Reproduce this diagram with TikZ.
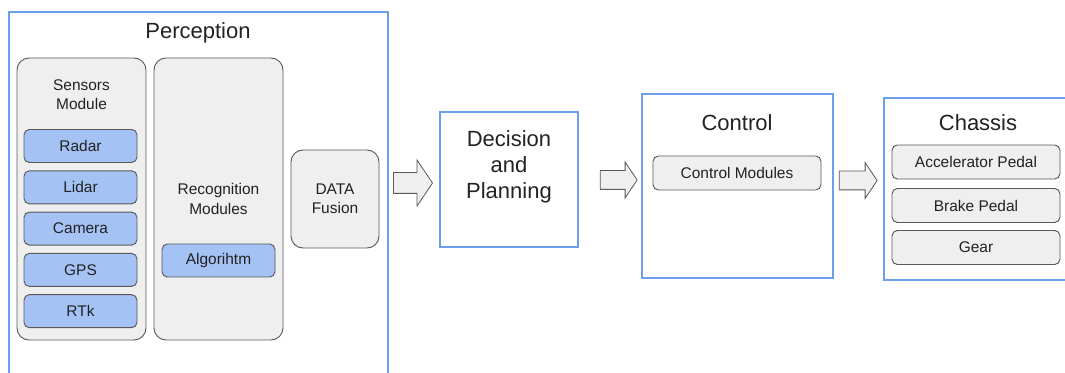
\documentclass[tikz,border=0pt]{standalone}
\usepackage{fontspec}
\setmainfont{Liberation Sans}
\usetikzlibrary{shapes.arrows}
\definecolor{framecol}{HTML}{6D9EEB}
\definecolor{modfill}{HTML}{EFEFEF}
\definecolor{itemfill}{HTML}{A4C2F4}
\definecolor{linecol}{HTML}{595959}
\definecolor{txtcol}{HTML}{222222}
\newcommand{\smallfnt}{\fontsize{11.6}{14.3}\selectfont}
\newcommand{\titlefnt}{\fontsize{16.5}{19.6}\selectfont}
\begin{document}
\begin{tikzpicture}[x=0.75pt, y=-0.75pt, text=txtcol, font=\smallfnt,
  sz/.style 2 args={minimum width=#1*0.75pt, minimum height=#2*0.75pt, inner sep=0pt},
  frame/.style={draw=framecol, line width=1.2pt, fill=white},
  module/.style={draw=linecol, line width=0.7pt, fill=modfill, rounded corners=9pt},
  item/.style={draw=linecol, line width=0.7pt, fill=itemfill, rounded corners=4pt, sz={113}{33}},
  grayitem/.style={draw=linecol, line width=0.7pt, fill=modfill, rounded corners=4pt, sz={168}{34}},
  blockarrow/.style={single arrow, draw=linecol, line width=0.6pt, fill=modfill, inner xsep=0pt, single arrow tip angle=112, single arrow head indent=0pt},
  title/.style={font=\titlefnt, align=center}]
\useasboundingbox (0,0) rectangle (1065,373);
\fill[white] (0,0) rectangle (1065,373);
% outer frames
\node[frame, sz={379}{378}] (perc) at (198.5,201) {};
\node[frame, sz={138}{135}] (dp) at (509,179.5) {};
\node[frame, sz={191}{184}] (ctrl) at (737.5,186) {};
\node[frame, sz={200}{182}] (chas) at (984,189) {};
\node[title] (perctitle) at (198,33) {Perception};
\node[title, anchor=north] (dptext) at (509,126) {Decision\\and\\Planning};
\node[title] (ctrltitle) at (737,123) {Control};
\node[title] (chastitle) at (978,123) {Chassis};
% perception modules
\begin{scope}[every node/.append style={align=center}]
\node[module, sz={129}{282}] (sens) at (81.5,199) {};
\node (senstext) at (81.5,94.5) {Sensors\\Module};
\foreach \name/\lbl [count=\i] in {radar/Radar, lidar/Lidar, camera/Camera, gps/GPS, rtk/RTk}
  \node[item] (\name) at (80.5,{146+41.3*(\i-1)}) {\lbl};
\node[module, sz={129}{282}] (recog) at (218.5,199) {Recognition\\Modules};
\node[item] (algo) at (218.5,260.5) {Algorihtm};
\node[module, sz={88}{98}] (fusion) at (335,199) {DATA\\Fusion};
\end{scope}
% control and chassis items
\node[grayitem] (ctrlmod) at (737,173) {Control Modules};
\node[grayitem] (accel) at (976,162) {Accelerator Pedal};
\node[grayitem] (brake) at (976,205.5) {Brake Pedal};
\node[grayitem] (gear) at (976,247.5) {Gear};
% block arrows
\node[blockarrow, minimum height=39*0.75pt, inner ysep=10*0.75pt, single arrow head extend=12.5*0.75pt] (ar1) at (409.5,183) {};
\node[blockarrow, minimum height=37*0.75pt, inner ysep=9*0.75pt, single arrow head extend=8.5*0.75pt] (ar2) at (615.5,180) {};
\node[blockarrow, minimum height=38*0.75pt, inner ysep=9*0.75pt, single arrow head extend=8.5*0.75pt] (ar3) at (855,180.5) {};
\end{tikzpicture}
\end{document}
